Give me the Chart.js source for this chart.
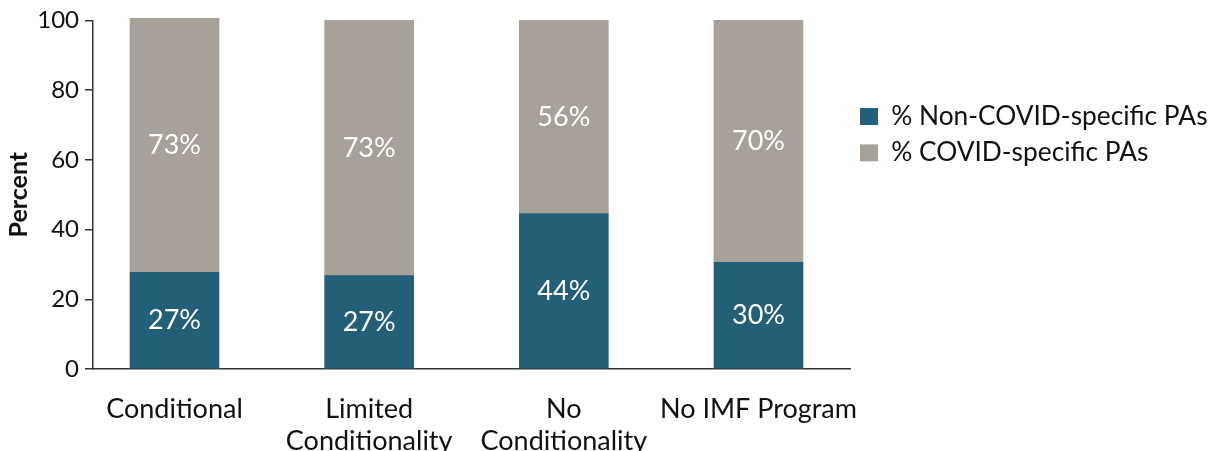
<!DOCTYPE html>
<html>
<head>
<meta charset="utf-8">
<script src="https://cdn.jsdelivr.net/npm/chart.js@4"></script>
<style>
  html, body { margin: 0; padding: 0; background: #fff; }
  #wrap { width: 1214px; height: 451px; }
</style>
</head>
<body>
<div id="wrap"><canvas id="grafico"></canvas></div>
<script>
const categorias = [["Conditional"], ["Limited", "Conditionality"], ["No", "Conditionality"], ["No IMF Program"]];
const posicoes = [0, 1, 2, 3];
const naoCovid = [27.7, 26.8, 44.6, 30.6];
const covid = [72.9, 73.2, 55.4, 69.4];
const rotulosNaoCovid = ["27%", "27%", "44%", "30%"];
const rotulosCovid = ["73%", "73%", "56%", "70%"];
const ticksY = [0, 20, 40, 60, 80, 100];

const corNaoCovid = "#245f78";
const corCovid = "#a8a19a";

const rotulosBarras = {
  id: "rotulosBarras",
  afterDatasetsDraw(chart) {
    const ctx = chart.ctx;
    ctx.save();
    ctx.font = "27px Lato";
    ctx.fillStyle = "#ffffff";
    ctx.textAlign = "center";
    ctx.textBaseline = "middle";
    chart.data.datasets.forEach((ds, i) => {
      const meta = chart.getDatasetMeta(i);
      meta.data.forEach((barra, j) => {
        const p = barra.getCenterPoint();
        ctx.fillText(ds.rotulos[j], p.x, p.y);
      });
    });
    ctx.restore();
  },
};

function desenharGrafico() {
  new Chart(document.getElementById("grafico"), {
    type: "bar",
    data: {
      datasets: [
        {
          label: "% Non-COVID-specific PAs",
          data: posicoes.map((x, i) => ({ x: x, y: naoCovid[i] })),
          rotulos: rotulosNaoCovid,
          backgroundColor: corNaoCovid,
          barThickness: 89,
          clip: false,
        },
        {
          label: "% COVID-specific PAs",
          data: posicoes.map((x, i) => ({ x: x, y: covid[i] })),
          rotulos: rotulosCovid,
          backgroundColor: corCovid,
          barThickness: 89,
          clip: false,
        },
      ],
    },
    options: {
      responsive: true,
      maintainAspectRatio: false,
      animation: false,
      layout: { padding: { top: 20, left: 0, right: 4, bottom: 0 } },
      plugins: {
        legend: {
          position: "right",
          align: "start",
          maxWidth: 360,
          title: { display: true, text: "", padding: { top: 59, bottom: 0 } },
          labels: {
            boxWidth: 18,
            boxHeight: 17,
            padding: 10,
            color: "#111",
            font: { family: "Lato", size: 26.3 },
          },
        },
        tooltip: { enabled: false },
      },
      scales: {
        x: {
          type: "linear",
          stacked: true,
          offset: false,
          min: -0.4186,
          max: 3.47,
          afterFit: (escala) => { escala.height = 82; },
          grid: { display: false },
          border: { display: true, color: "#333", width: 1.5 },
          ticks: {
            stepSize: 1,
            includeBounds: false,
            autoSkip: false,
            maxRotation: 0,
            padding: 16,
            color: "#111",
            font: { family: "Lato", size: 27, lineHeight: 1.2 },
            callback: (v) => (Number.isInteger(v) && categorias[v] ? categorias[v] : ""),
          },
        },
        y: {
          stacked: true,
          min: 0,
          max: 100,
          afterFit: (escala) => { escala.width = 93; },
          afterBuildTicks: (escala) => { escala.ticks = ticksY.map((v) => ({ value: v })); },
          grid: { drawOnChartArea: false, drawTicks: true, tickLength: 8, color: "#333", lineWidth: 1.5 },
          border: { display: true, color: "#333", width: 1.5 },
          ticks: {
            padding: 6,
            color: "#111",
            font: { family: "Lato", size: 24 },
          },
          title: {
            display: true,
            text: "Percent",
            color: "#111",
            padding: { top: 4, bottom: 0 },
            font: { family: "Lato", size: 25, weight: "bold" },
          },
        },
      },
    },
    plugins: [rotulosBarras],
  });
}

Promise.all([
  document.fonts.load("27px Lato"),
  document.fonts.load("bold 25px Lato"),
]).then(desenharGrafico, desenharGrafico);
</script>
</body>
</html>
